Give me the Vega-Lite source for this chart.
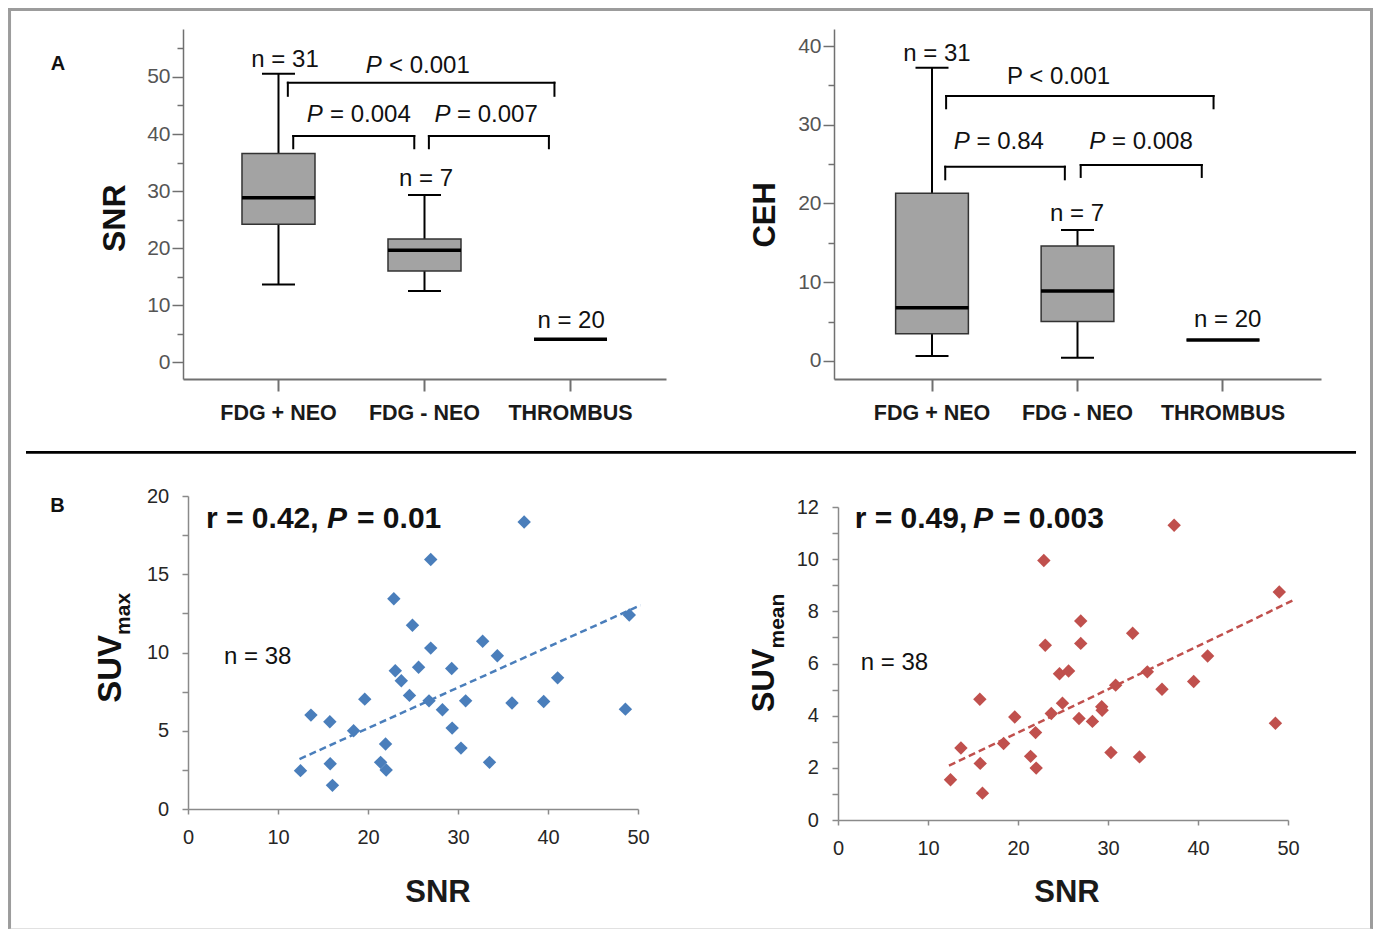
{
  "$schema": "https://vega.github.io/schema/vega-lite/v6.json",
  "autosize": {"type": "pad"},
  "padding": {"left": 7, "top": 7, "right": 0, "bottom": 0},
  "background": "white",
  "config": {"view": {"stroke": null}, "axis": {"grid": false}, "font": "Liberation Sans"},
  "datasets": {
    "pts": [
      {"snr": 12.5, "suvmax": 2.45, "suvmean": 1.54},
      {"snr": 13.66, "suvmax": 6.0, "suvmean": 2.76},
      {"snr": 15.76, "suvmax": 5.57, "suvmean": 4.63},
      {"snr": 15.8, "suvmax": 2.89, "suvmean": 2.17},
      {"snr": 16.05, "suvmax": 1.51, "suvmean": 1.03},
      {"snr": 18.4, "suvmax": 5.0, "suvmean": 2.93},
      {"snr": 19.64, "suvmax": 7.02, "suvmean": 3.95},
      {"snr": 21.4, "suvmax": 2.98, "suvmean": 2.44},
      {"snr": 21.95, "suvmax": 4.15, "suvmean": 3.35},
      {"snr": 22.02, "suvmax": 2.49, "suvmean": 1.99},
      {"snr": 22.87, "suvmax": 13.43, "suvmean": 9.95},
      {"snr": 23.03, "suvmax": 8.83, "suvmean": 6.7},
      {"snr": 23.7, "suvmax": 8.19, "suvmean": 4.08},
      {"snr": 24.61, "suvmax": 7.26, "suvmean": 5.61},
      {"snr": 24.94, "suvmax": 11.74, "suvmean": 4.48},
      {"snr": 25.62, "suvmax": 9.06, "suvmean": 5.71},
      {"snr": 26.78, "suvmax": 6.91, "suvmean": 3.89},
      {"snr": 26.97, "suvmax": 15.94, "suvmean": 7.63},
      {"snr": 26.97, "suvmax": 10.28, "suvmean": 6.77},
      {"snr": 28.27, "suvmax": 6.34, "suvmean": 3.78},
      {"snr": 29.3, "suvmax": 8.98, "suvmean": 4.34},
      {"snr": 29.35, "suvmax": 5.17, "suvmean": 4.21},
      {"snr": 30.33, "suvmax": 3.89, "suvmean": 2.59},
      {"snr": 30.85, "suvmax": 6.91, "suvmean": 5.17},
      {"snr": 32.74, "suvmax": 10.72, "suvmean": 7.16},
      {"snr": 33.5, "suvmax": 2.98, "suvmean": 2.42},
      {"snr": 34.37, "suvmax": 9.79, "suvmean": 5.68},
      {"snr": 36.0, "suvmax": 6.77, "suvmean": 5.01},
      {"snr": 37.35, "suvmax": 18.34, "suvmean": 11.3},
      {"snr": 39.52, "suvmax": 6.87, "suvmean": 5.31},
      {"snr": 41.07, "suvmax": 8.38, "suvmean": 6.29},
      {"snr": 48.6, "suvmax": 6.38, "suvmean": 3.71},
      {"snr": 49.03, "suvmax": 12.4, "suvmean": 8.74}
    ]
  },
  "columns": 2,
  "align": "none",
  "bounds": "flush",
  "spacing": {"row": 117, "column": 168},
  "concat": [
    {
      "width": 487, "height": 350,
      "resolve": {"scale": {"x": "independent"}},
      "encoding": {
        "y": {"field": "v", "type": "quantitative", "scale": {"domain": [-2.98, 58.42], "nice": false, "zero": false},
          "axis": {"values": [0, 5, 10, 15, 20, 25, 30, 35, 40, 45, 50, 55],
            "labelExpr": "datum.value % 10 === 0 ? datum.label : ''",
            "tickSize": {"condition": {"test": "datum.value % 10 === 0", "value": 11}, "value": 6},
            "tickColor": "#707070", "tickWidth": 1.5, "domainColor": "#707070", "domainWidth": 1.5,
            "labelFont": "Liberation Sans", "labelFontSize": 21, "labelColor": "#555555", "labelPadding": 2,
            "title": "SNR", "titleFont": "Liberation Sans", "titleFontSize": 32, "titleFontWeight": "bold", "titleColor": "#111111",
            "titleX": -58.5, "titleY": 188.7, "titleBaseline": "alphabetic", "titleAngle": 270, "titleAlign": "center"}}
      },
      "layer": [
        {
          "data": {"values": [
            {"group": "FDG + NEO", "min": 13.6, "q1": 24.15, "median": 28.83, "q3": 36.6, "max": 50.58},
            {"group": "FDG - NEO", "min": 12.46, "q1": 15.96, "median": 19.59, "q3": 21.6, "max": 29.3},
            {"group": "THROMBUS", "min": 3.98, "q1": 3.98, "median": 3.98, "q3": 3.98, "max": 3.98}
          ]},
          "encoding": {
            "x": {"field": "group", "type": "nominal", "sort": null,
              "scale": {"range": [0, 483], "paddingInner": 0.5, "paddingOuter": 0.404},
              "axis": {"title": null, "bandPosition": 0.5, "labelAngle": 0, "labelFont": "Liberation Sans", "labelFontSize": 21.5, "labelFontWeight": "bold", "labelColor": "#1a1a1a", "labelPadding": 11, "tickSize": 12, "tickWidth": 2, "tickColor": "#707070", "domainColor": "#707070", "domainWidth": 2}}
          },
          "layer": [
            {"mark": {"type": "rule", "color": "#000000", "strokeWidth": 2},
             "encoding": {"y": {"field": "min"}, "y2": {"field": "max"}}},
            {"mark": {"type": "bar", "fill": "#a3a3a3", "stroke": "#333333", "strokeWidth": 1.5},
             "encoding": {"y": {"field": "q1"}, "y2": {"field": "q3"}}},
            {"mark": {"type": "tick", "size": 33, "thickness": 2, "color": "#000000", "opacity": 1},
             "encoding": {"y": {"field": "min"}}},
            {"mark": {"type": "tick", "size": 33, "thickness": 2, "color": "#000000", "opacity": 1},
             "encoding": {"y": {"field": "max"}}},
            {"mark": {"type": "tick", "size": 73, "thickness": 3.5, "color": "#000000", "opacity": 1},
             "encoding": {"y": {"field": "median"}}}
          ]
        },
        {
          "encoding": {
            "x": {"field": "u", "type": "quantitative", "scale": {"domain": [-0.654, 2.654], "range": [0, 483], "nice": false, "zero": false}, "axis": null}
          },
          "layer": [
            {"data": {"values": [
              {"u": 0.064, "u2": 1.89, "v": 49.0, "v2": 49.0},
              {"u": 0.064, "u2": 0.064, "v": 49.0, "v2": 46.7},
              {"u": 1.89, "u2": 1.89, "v": 49.0, "v2": 46.7},
              {"u": 0.101, "u2": 0.93, "v": 39.65, "v2": 39.65},
              {"u": 0.101, "u2": 0.101, "v": 39.65, "v2": 37.5},
              {"u": 0.93, "u2": 0.93, "v": 39.65, "v2": 37.5},
              {"u": 1.03, "u2": 1.852, "v": 39.65, "v2": 39.65},
              {"u": 1.03, "u2": 1.03, "v": 39.65, "v2": 37.5},
              {"u": 1.852, "u2": 1.852, "v": 39.65, "v2": 37.5}
            ]},
             "mark": {"type": "rule", "color": "#000000", "strokeWidth": 2, "strokeCap": "square"},
             "encoding": {"x2": {"field": "u2"}, "y2": {"field": "v2"}}},
            {"data": {"values": [
              {"u": 0.045, "v": 51.75, "t": "n = 31"},
              {"u": 1.01, "v": 30.88, "t": "n = 7"},
              {"u": 2.004, "v": 6.02, "t": "n = 20"}
            ]},
             "mark": {"type": "text", "font": "Liberation Sans", "fontSize": 24, "align": "center", "baseline": "alphabetic", "color": "#111111"},
             "encoding": {"text": {"field": "t"}}},
            {"data": {"values": [
              {"u": 0.597, "v": 50.75, "t": "P"},
              {"u": 0.194, "v": 42.1, "t": "P"},
              {"u": 1.068, "v": 42.1, "t": "P"}
            ]},
             "mark": {"type": "text", "font": "Liberation Sans", "fontSize": 24, "fontStyle": "italic", "align": "left", "baseline": "alphabetic", "color": "#111111"},
             "encoding": {"text": {"field": "t"}}},
            {"data": {"values": [
              {"u": 0.757, "v": 50.75, "t": "< 0.001"},
              {"u": 0.353, "v": 42.1, "t": "= 0.004"},
              {"u": 1.223, "v": 42.1, "t": "= 0.007"}
            ]},
             "mark": {"type": "text", "font": "Liberation Sans", "fontSize": 24, "align": "left", "baseline": "alphabetic", "color": "#111111"},
             "encoding": {"text": {"field": "t"}}},
            {"data": {"values": [{"u": -1.51, "v": 51.23, "t": "A"}]},
             "mark": {"type": "text", "font": "Liberation Sans", "fontSize": 20, "fontWeight": "bold", "align": "center", "baseline": "alphabetic", "color": "#111111"},
             "encoding": {"text": {"field": "t"}}}
          ]
        }
      ]
    },
    {
      "width": 487, "height": 350,
      "resolve": {"scale": {"x": "independent"}},
      "encoding": {
        "y": {"field": "v", "type": "quantitative", "scale": {"domain": [-2.29, 42.16], "nice": false, "zero": false},
          "axis": {"values": [0, 5, 10, 15, 20, 25, 30, 35, 40], "offset": 4,
            "labelExpr": "datum.value % 10 === 0 ? datum.label : ''",
            "tickSize": {"condition": {"test": "datum.value % 10 === 0", "value": 11}, "value": 6},
            "tickColor": "#707070", "tickWidth": 1.5, "domainColor": "#707070", "domainWidth": 1.5,
            "labelFont": "Liberation Sans", "labelFontSize": 21, "labelColor": "#555555", "labelPadding": 2,
            "title": "CEH", "titleFont": "Liberation Sans", "titleFontSize": 31, "titleFontWeight": "bold", "titleColor": "#111111",
            "titleX": -59.7, "titleY": 185.3, "titleBaseline": "alphabetic", "titleAngle": 270, "titleAlign": "center"}}
      },
      "layer": [
        {
          "data": {"values": [
            {"group": "FDG + NEO", "min": 0.63, "q1": 3.47, "median": 6.77, "q3": 21.29, "max": 37.25},
            {"group": "FDG - NEO", "min": 0.42, "q1": 5.0, "median": 8.89, "q3": 14.6, "max": 16.63},
            {"group": "THROMBUS", "min": 2.67, "q1": 2.67, "median": 2.67, "q3": 2.67, "max": 2.67}
          ]},
          "encoding": {
            "x": {"field": "group", "type": "nominal", "sort": null,
              "scale": {"range": [-4, 483], "paddingInner": 0.5, "paddingOuter": 0.4236},
              "axis": {"title": null, "bandPosition": 0.5, "labelAngle": 0, "labelFont": "Liberation Sans", "labelFontSize": 21.5, "labelFontWeight": "bold", "labelColor": "#1a1a1a", "labelPadding": 11, "tickSize": 12, "tickWidth": 2, "tickColor": "#707070", "domainColor": "#707070", "domainWidth": 2}}
          },
          "layer": [
            {"mark": {"type": "rule", "color": "#000000", "strokeWidth": 2},
             "encoding": {"y": {"field": "min"}, "y2": {"field": "max"}}},
            {"mark": {"type": "bar", "fill": "#a3a3a3", "stroke": "#333333", "strokeWidth": 1.5},
             "encoding": {"y": {"field": "q1"}, "y2": {"field": "q3"}}},
            {"mark": {"type": "tick", "size": 33, "thickness": 2, "color": "#000000", "opacity": 1},
             "encoding": {"y": {"field": "min"}}},
            {"mark": {"type": "tick", "size": 33, "thickness": 2, "color": "#000000", "opacity": 1},
             "encoding": {"y": {"field": "max"}}},
            {"mark": {"type": "tick", "size": 73, "thickness": 3.5, "color": "#000000", "opacity": 1},
             "encoding": {"y": {"field": "median"}}}
          ]
        },
        {
          "encoding": {
            "x": {"field": "u", "type": "quantitative", "scale": {"domain": [-0.6735, 2.6735], "range": [-4, 483], "nice": false, "zero": false}, "axis": null}
          },
          "layer": [
            {"data": {"values": [
              {"u": 0.097, "u2": 1.935, "v": 33.65, "v2": 33.65},
              {"u": 0.097, "u2": 0.097, "v": 33.65, "v2": 32.09},
              {"u": 1.935, "u2": 1.935, "v": 33.65, "v2": 32.09},
              {"u": 0.091, "u2": 0.913, "v": 24.67, "v2": 24.67},
              {"u": 0.091, "u2": 0.091, "v": 24.67, "v2": 23.07},
              {"u": 0.913, "u2": 0.913, "v": 24.67, "v2": 23.07},
              {"u": 1.022, "u2": 1.854, "v": 24.89, "v2": 24.89},
              {"u": 1.022, "u2": 1.022, "v": 24.89, "v2": 23.37},
              {"u": 1.854, "u2": 1.854, "v": 24.89, "v2": 23.37}
            ]},
             "mark": {"type": "rule", "color": "#000000", "strokeWidth": 2, "strokeCap": "square"},
             "encoding": {"x2": {"field": "u2"}, "y2": {"field": "v2"}}},
            {"data": {"values": [
              {"u": 0.034, "v": 38.1, "t": "n = 31"},
              {"u": 0.997, "v": 17.78, "t": "n = 7"},
              {"u": 2.032, "v": 4.32, "t": "n = 20"},
              {"u": 0.87, "v": 35.14, "t": "P < 0.001"}
            ]},
             "mark": {"type": "text", "font": "Liberation Sans", "fontSize": 24, "align": "center", "baseline": "alphabetic", "color": "#111111"},
             "encoding": {"text": {"field": "t"}}},
            {"data": {"values": [
              {"u": 0.15, "v": 26.88, "t": "P"},
              {"u": 1.081, "v": 26.88, "t": "P"}
            ]},
             "mark": {"type": "text", "font": "Liberation Sans", "fontSize": 24, "fontStyle": "italic", "align": "left", "baseline": "alphabetic", "color": "#111111"},
             "encoding": {"text": {"field": "t"}}},
            {"data": {"values": [
              {"u": 0.306, "v": 26.88, "t": "= 0.84"},
              {"u": 1.237, "v": 26.88, "t": "= 0.008"}
            ]},
             "mark": {"type": "text", "font": "Liberation Sans", "fontSize": 24, "align": "left", "baseline": "alphabetic", "color": "#111111"},
             "encoding": {"text": {"field": "t"}}}
          ]
        }
      ]
    },
    {
      "width": 487, "height": 313,
      "encoding": {
        "x": {"field": "snr", "type": "quantitative", "scale": {"domain": [0, 50], "range": [5, 455], "nice": false, "zero": false},
          "axis": {"values": [0, 10, 20, 30, 40, 50], "tickSize": 5, "tickColor": "#8a8a8a", "tickWidth": 1.5, "domainColor": "#8a8a8a", "domainWidth": 1.5,
            "labelFont": "Liberation Sans", "labelFontSize": 20, "labelColor": "#262626", "labelPadding": 13, "labelFlush": false,
            "title": "SNR", "titleFont": "Liberation Sans", "titleFontSize": 31, "titleFontWeight": "bold", "titleColor": "#1a1a1a",
            "titleX": 254.5, "titleY": 92, "titleBaseline": "alphabetic", "titleAlign": "center"}},
        "y": {"field": "suvmax", "type": "quantitative", "scale": {"domain": [0, 20], "nice": false, "zero": false},
          "axis": {"values": [0, 2.5, 5, 7.5, 10, 12.5, 15, 17.5, 20], "labelExpr": "datum.value % 5 === 0 ? datum.label : ''",
            "tickSize": 6, "tickColor": "#8a8a8a", "tickWidth": 1.5, "domainColor": "#8a8a8a", "domainWidth": 1.5, "offset": -5,
            "labelFont": "Liberation Sans", "labelFontSize": 20, "labelColor": "#262626", "labelPadding": 13.3, "title": null}}
      },
      "layer": [
        {"data": {"name": "pts"},
         "mark": {"type": "point", "shape": "diamond", "filled": true, "size": 180, "color": "#4a7ebb", "opacity": 1}},
        {"data": {"values": [{"snr": 12.39, "suvmax": 3.19}, {"snr": 50.28, "suvmax": 13.02}]},
         "mark": {"type": "line", "strokeDash": [7, 4], "strokeWidth": 2.5, "color": "#4a7ebb"}},
        {"data": {"values": [{"snr": 4.0, "suvmax": 9.27, "t": "n = 38"}]},
         "mark": {"type": "text", "font": "Liberation Sans", "fontSize": 24, "align": "left", "baseline": "alphabetic", "color": "#111111"},
         "encoding": {"text": {"field": "t"}}},
        {"data": {"values": [{"snr": 2.0, "suvmax": 17.96, "t": "r = 0.42,"}, {"snr": 18.78, "suvmax": 17.96, "t": "= 0.01"}]},
         "mark": {"type": "text", "font": "Liberation Sans", "fontSize": 30, "fontWeight": "bold", "align": "left", "baseline": "alphabetic", "color": "#111111"},
         "encoding": {"text": {"field": "t"}}},
        {"data": {"values": [{"snr": 15.44, "suvmax": 17.96, "t": "P"}]},
         "mark": {"type": "text", "font": "Liberation Sans", "fontSize": 30, "fontWeight": "bold", "fontStyle": "italic", "align": "left", "baseline": "alphabetic", "color": "#111111"},
         "encoding": {"text": {"field": "t"}}},
        {"data": {"values": [{"snr": -7.44, "suvmax": 11.12, "t": "SUV"}]},
         "mark": {"type": "text", "font": "Liberation Sans", "fontSize": 33, "fontWeight": "bold", "angle": 270, "align": "right", "baseline": "alphabetic", "color": "#111111"},
         "encoding": {"text": {"field": "t"}}},
        {"data": {"values": [{"snr": -6.44, "suvmax": 11.12, "t": "max"}]},
         "mark": {"type": "text", "font": "Liberation Sans", "fontSize": 21, "fontWeight": "bold", "angle": 270, "align": "left", "baseline": "alphabetic", "color": "#111111"},
         "encoding": {"text": {"field": "t"}}},
        {"data": {"values": [{"snr": -14.5, "suvmax": 18.98, "t": "B"}]},
         "mark": {"type": "text", "font": "Liberation Sans", "fontSize": 20, "fontWeight": "bold", "align": "center", "baseline": "alphabetic", "color": "#111111"},
         "encoding": {"text": {"field": "t"}}},
        {"data": {"values": [{"snr": -18.0, "snr2": 129.78, "suvmax": 22.79}]},
         "mark": {"type": "rule", "color": "#000000", "strokeWidth": 2.7},
         "encoding": {"x2": {"field": "snr2"}}},
        {"data": {"values": [
          {"snr": -19.83, "snr2": 131.5, "suvmax": 51.09, "y2v": 51.09},
          {"snr": -19.83, "snr2": -19.83, "suvmax": 51.09, "y2v": -7.687},
          {"snr": 131.5, "snr2": 131.5, "suvmax": 51.09, "y2v": -7.687}
        ]},
         "mark": {"type": "rule", "color": "#9c9c9c", "strokeWidth": 3, "strokeCap": "square"},
         "encoding": {"x2": {"field": "snr2"}, "y2": {"field": "y2v"}}},
        {"data": {"values": [{"snr": -19.83, "snr2": 131.5, "suvmax": -7.687}]},
         "mark": {"type": "rule", "color": "#c4c4c4", "strokeWidth": 1.5},
         "encoding": {"x2": {"field": "snr2"}}}
      ]
    },
    {
      "width": 450, "height": 324,
      "encoding": {
        "x": {"field": "snr", "type": "quantitative", "scale": {"domain": [0, 50], "nice": false, "zero": false},
          "axis": {"values": [0, 10, 20, 30, 40, 50], "tickSize": 5, "tickColor": "#8a8a8a", "tickWidth": 1.5, "domainColor": "#8a8a8a", "domainWidth": 1.5,
            "labelFont": "Liberation Sans", "labelFontSize": 20, "labelColor": "#262626", "labelPadding": 13.5, "labelFlush": false,
            "title": "SNR", "titleFont": "Liberation Sans", "titleFontSize": 31, "titleFontWeight": "bold", "titleColor": "#1a1a1a",
            "titleX": 228.5, "titleY": 81, "titleBaseline": "alphabetic", "titleAlign": "center"}},
        "y": {"field": "suvmean", "type": "quantitative", "scale": {"domain": [0, 12], "range": [324, 11], "nice": false, "zero": false},
          "axis": {"values": [0, 1, 2, 3, 4, 5, 6, 7, 8, 9, 10, 11, 12], "labelExpr": "datum.value % 2 === 0 ? datum.label : ''",
            "tickSize": 6, "tickColor": "#8a8a8a", "tickWidth": 1.5, "domainColor": "#8a8a8a", "domainWidth": 1.5,
            "labelFont": "Liberation Sans", "labelFontSize": 20, "labelColor": "#262626", "labelPadding": 13.6, "title": null}}
      },
      "layer": [
        {"data": {"name": "pts"},
         "mark": {"type": "point", "shape": "diamond", "filled": true, "size": 180, "color": "#c0504d", "opacity": 1}},
        {"data": {"values": [{"snr": 12.33, "suvmean": 2.08}, {"snr": 50.62, "suvmean": 8.43}]},
         "mark": {"type": "line", "strokeDash": [7, 4], "strokeWidth": 2.5, "color": "#c0504d"}},
        {"data": {"values": [{"snr": 2.52, "suvmean": 5.75, "t": "n = 38"}]},
         "mark": {"type": "text", "font": "Liberation Sans", "fontSize": 24, "align": "left", "baseline": "alphabetic", "color": "#111111"},
         "encoding": {"text": {"field": "t"}}},
        {"data": {"values": [{"snr": 1.86, "suvmean": 11.19, "t": "r = 0.49,"}, {"snr": 18.33, "suvmean": 11.19, "t": "= 0.003"}]},
         "mark": {"type": "text", "font": "Liberation Sans", "fontSize": 30, "fontWeight": "bold", "align": "left", "baseline": "alphabetic", "color": "#111111"},
         "encoding": {"text": {"field": "t"}}},
        {"data": {"values": [{"snr": 15.0, "suvmean": 11.19, "t": "P"}]},
         "mark": {"type": "text", "font": "Liberation Sans", "fontSize": 30, "fontWeight": "bold", "fontStyle": "italic", "align": "left", "baseline": "alphabetic", "color": "#111111"},
         "encoding": {"text": {"field": "t"}}},
        {"data": {"values": [{"snr": -7.08, "suvmean": 6.575, "t": "SUV"}]},
         "mark": {"type": "text", "font": "Liberation Sans", "fontSize": 31, "fontWeight": "bold", "angle": 270, "align": "right", "baseline": "alphabetic", "color": "#111111"},
         "encoding": {"text": {"field": "t"}}},
        {"data": {"values": [{"snr": -6.0, "suvmean": 6.575, "t": "mean"}]},
         "mark": {"type": "text", "font": "Liberation Sans", "fontSize": 21, "fontWeight": "bold", "angle": 270, "align": "left", "baseline": "alphabetic", "color": "#111111"},
         "encoding": {"text": {"field": "t"}}}
      ]
    }
  ]
}
